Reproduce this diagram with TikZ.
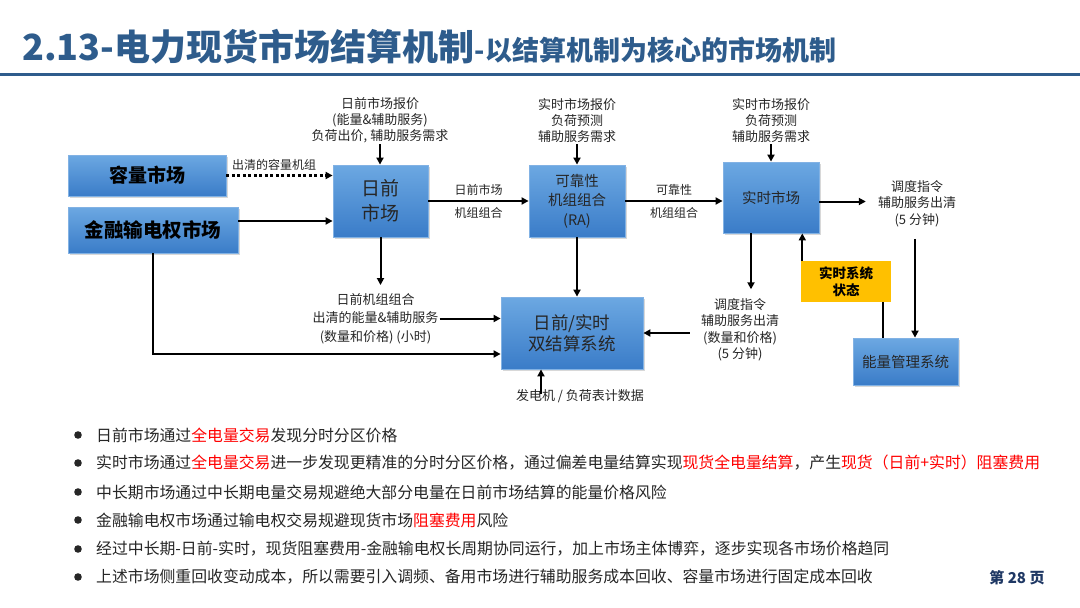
\documentclass[tikz,border=0pt]{standalone}
\usepackage{fontspec}
\setmainfont{Noto Sans CJK SC}
\usetikzlibrary{arrows.meta,shadows,calc}
\definecolor{titleblue}{RGB}{46,92,140}
\definecolor{boxtop}{RGB}{108,168,226}
\definecolor{boxbot}{RGB}{58,124,200}
\definecolor{boxedge}{RGB}{130,178,228}
\definecolor{ybox}{RGB}{255,192,0}
\definecolor{txt}{RGB}{38,38,38}
\definecolor{hired}{RGB}{255,0,0}
\definecolor{pgblue}{RGB}{31,56,100}
\tikzset{
  bluebox/.style={rectangle, top color=boxtop, bottom color=boxbot, draw=boxedge, line width=0.8pt,
    inner sep=0pt, align=center, text=txt,
    drop shadow={shadow xshift=2pt, shadow yshift=-2pt, opacity=0.3}},
  arr/.style={line width=2pt, -{Triangle[length=7pt,width=7pt]}},
  plain/.style={line width=2pt},
  lbl/.style={align=center, text=txt, font=\fontsize{13}{16}\selectfont},
  elbl/.style={text=txt, font=\fontsize{12}{14}\selectfont, inner sep=2pt},
  bul/.style={anchor=west, inner sep=0pt, text=txt, font=\fontsize{15.85}{18}\selectfont},
}
\begin{document}
\begin{tikzpicture}[x=1pt,y=-1pt]
\useasboundingbox (0,0) rectangle (1080,608);
\fill[white] (0,0) rectangle (1080,608);
% title
\node[anchor=base west, inner sep=0pt, text=titleblue, font=\fontsize{36}{38}\bfseries\selectfont] (title) at (22,60)
  {2.13-电力现货市场结算机制};
\node[anchor=base west, inner sep=0pt, text=titleblue, font=\fontsize{27}{29}\bfseries\selectfont] (subtitle) at (title.base east)
  {-以结算机制为核心的市场机制};
\draw[titleblue, line width=3pt] (0,74) -- (1080,74);

% boxes
\node[bluebox, minimum width=158pt, minimum height=41pt, font=\fontsize{19}{22}\bfseries\selectfont, text=black] (cap) at (147,175.5) {容量市场};
\node[bluebox, minimum width=170pt, minimum height=46pt, font=\fontsize{19.5}{22}\bfseries\selectfont, text=black] (ftr) at (153,230) {金融输电权市场};
\node[bluebox, minimum width=95pt, minimum height=72pt, font=\fontsize{19}{25}\selectfont] (da) at (380.5,201) {日前\\市场};
\node[bluebox, minimum width=96pt, minimum height=72pt, font=\fontsize{14.5}{19.5}\selectfont] (ra) at (577,201) {可靠性\\机组组合\\(RA)};
\node[bluebox, minimum width=96pt, minimum height=71pt, font=\fontsize{14.5}{17}\selectfont] (rt) at (771,197.5) {实时市场};
\node[bluebox, minimum width=142pt, minimum height=72pt, font=\fontsize{17.5}{21}\selectfont] (ds) at (572,333) {日前/实时\\双结算系统};
\node[bluebox, minimum width=105pt, minimum height=47pt, font=\fontsize{14.5}{17}\selectfont] (ems) at (905.5,361.5) {能量管理系统};
\node[rectangle, fill=ybox, minimum width=90pt, minimum height=41pt, inner sep=0pt, align=center,
  font=\fontsize{13.5}{17}\bfseries\selectfont, text=black] (rss) at (846,281.5) {实时系统\\状态};

% top labels
\node[lbl, anchor=south, inner sep=1pt] (dain) at (380,144) {日前市场报价\\(能量\&辅助服务)\\负荷出价, 辅助服务需求};
\node[lbl, anchor=south, inner sep=1pt] (rain) at (577,144) {实时市场报价\\负荷预测\\辅助服务需求};
\node[lbl, anchor=south, inner sep=1pt] (rtin) at (771,144) {实时市场报价\\负荷预测\\辅助服务需求};
\draw[arr] (dain.south) -- (dain.south |- da.north);
\draw[arr] (rain.south) -- (rain.south |- ra.north);
\draw[arr] (rtin.south) -- (rtin.south |- rt.north);

% left inputs
\draw[line width=3pt, dash pattern=on 3pt off 2.5pt, -{Triangle[length=7pt,width=7pt]}] (cap.east) -- (da.west |- cap.east)
  node[elbl, pos=0.45, above=2pt] {出清的容量机组};
\coordinate (f1) at ([yshift=9pt]ftr.east);
\draw[arr] (f1) -- (da.west |- f1);

% main chain
\draw[arr] (da.east) -- (ra.west |- da.east)
  node[elbl, midway, above=3pt] {日前市场}
  node[elbl, midway, below=3pt] {机组组合};
\draw[arr] (ra.east) -- (rt.west |- ra.east)
  node[elbl, midway, above=3pt] {可靠性}
  node[elbl, midway, below=3pt] {机组组合};

% real-time output
\node[lbl, inner xsep=12pt, inner ysep=12pt, font=\fontsize{13}{16.5}\selectfont] (rtout) at (917,203.5) {调度指令\\辅助服务出清\\(5 分钟)};
\coordinate (r1) at ([yshift=-4pt]rt.east);
\draw[arr] (r1) -- (rtout.west |- r1);
\coordinate (a1) at ([xshift=9.5pt]ems.north);
\draw[arr] (a1 |- rtout.south) -- (a1);
\coordinate (a2) at ([xshift=-23pt]ems.north);
\draw[plain] (a2) -- (a2 |- rss.south);
\coordinate (a3) at ([xshift=1.5pt]rss.north west);
\draw[arr] (a3) -- (a3 |- rt.south);

% real-time down to settlement
\node[lbl, inner xsep=11pt, inner ysep=9pt, font=\fontsize{13}{16.5}\selectfont] (rtd) at (740,330) {调度指令\\辅助服务出清\\(数量和价格)\\(5 分钟)};
\coordinate (a4) at ([xshift=-20pt]rt.south);
\draw[arr] (a4) -- (a4 |- rtd.north);
\draw[arr] (rtd.west |- ds.east) -- (ds.east);

% RA down
\draw[arr] (ra.south) -- (ra.south |- ds.north);

% day-ahead down
\node[lbl, inner xsep=1pt, inner ysep=8pt, font=\fontsize{13}{18.5}\selectfont] (dad) at (375.5,318.5) {日前机组组合\\出清的能量\&辅助服务\\(数量和价格) (小时)};
\draw[arr] (da.south) -- (da.south |- dad.north);
\draw[arr] (dad.east) -- (ds.west |- dad.east);

% FTR to settlement
\coordinate (a5) at ([yshift=-21pt]ds.west);
\draw[arr] (ftr.south) |- (a5);

% meter data
\node[lbl, inner sep=1pt] (meter) at (580,396) {发电机 / 负荷表计数据};
\coordinate (mt) at (541,394);
\draw[arr] (mt) -- (ds.south -| mt);

% bullets
\foreach \yy in {435,463,492,520,549,577} { \fill[txt] (78,\yy) circle (3.8pt); }
\node[bul] (b1) at (96,435) {日前市场通过\textcolor{hired}{全电量交易}发现分时分区价格};
\node[bul] (b2) at (96,463) {实时市场通过\textcolor{hired}{全电量交易}进一步发现更精准的分时分区价格，通过偏差电量结算实现\textcolor{hired}{现货全电量结算}，产生\textcolor{hired}{现货（日前+实时）阻塞费用}};
\node[bul] (b3) at (96,492) {中长期市场通过中长期电量交易规避绝大部分电量在日前市场结算的能量价格风险};
\node[bul] (b4) at (96,520) {金融输电权市场通过输电权交易规避现货市场\textcolor{hired}{阻塞费用}风险};
\node[bul] (b5) at (96,549) {经过中长期-日前-实时，现货阻塞费用-金融输电权长周期协同运行，加上市场主体博弈，逐步实现各市场价格趋同};
\node[bul] (b6) at (96,577) {上述市场侧重回收变动成本，所以需要引入调频、备用市场进行辅助服务成本回收、容量市场进行固定成本回收};
\node[inner sep=0pt, text=pgblue, font=\fontsize{15}{18}\bfseries\selectfont] (page) at (1017,578) {第 28 页};
\end{tikzpicture}
\end{document}
